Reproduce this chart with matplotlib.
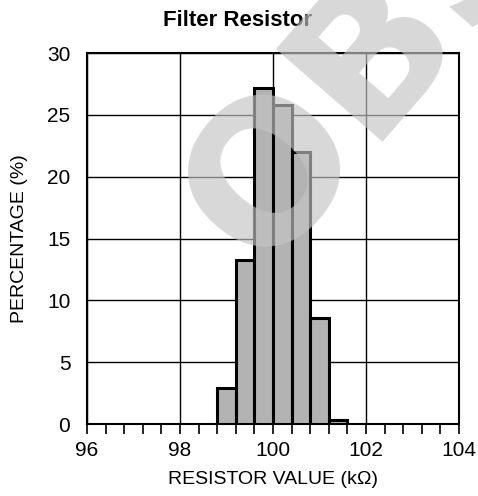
import numpy as np
import matplotlib.pyplot as plt

plt.rcParams['font.family'] = ['Liberation Sans', 'DejaVu Sans']

# histogram data
bin_edges = [98.8, 99.2, 99.6, 100.0, 100.4, 100.8, 101.2, 101.6]
percentages = [2.9, 13.3, 27.2, 25.8, 22.0, 8.6, 0.3]

x_ticks = [96, 98, 100, 102, 104]
y_ticks = [0, 5, 10, 15, 20, 25, 30]

fig = plt.figure(figsize=(4.78, 4.96), dpi=100)
ax = fig.add_axes([0.182, 0.145, 0.778, 0.748])

# 棒グラフ
lefts = np.array(bin_edges[:-1])
widths = np.diff(bin_edges)
ax.bar(lefts, percentages, width=widths, align='edge', color='#b3b3b3',
       edgecolor='black', linewidth=2.2, zorder=3)

ax.set_xlim(96, 104)
ax.set_ylim(0, 30)
ax.set_xticks(x_ticks)
ax.set_xticks(np.arange(96, 104.01, 0.4), minor=True)
ax.set_yticks(y_ticks)
ax.grid(True, which='major', color='black', linewidth=1.0, zorder=1)
ax.set_axisbelow(True)

ax.tick_params(axis='x', which='both', direction='out', length=7, width=1.2,
               labelsize=15, pad=5)
ax.tick_params(axis='y', which='both', length=0, labelsize=15, pad=12)
for s in ax.spines.values():
    s.set_linewidth(1.5)

ax.set_xlabel('RESISTOR VALUE (k\u03a9)', fontsize=14, labelpad=8)
ax.set_ylabel('PERCENTAGE (%)', fontsize=14, labelpad=14)
fig.text(0.498, 0.958, 'Filter Resistor', fontsize=16, fontweight='bold',
         ha='center', va='center')

# watermark
fig.text(0.458, 0.522, 'OBSOLETE', fontsize=140, fontweight='bold',
         family=['DejaVu Sans'],
         color=(0.77, 0.77, 0.77), alpha=0.66, rotation=49,
         ha='left', va='center', rotation_mode='anchor', zorder=10)

fig.savefig('out.png', dpi=100)
